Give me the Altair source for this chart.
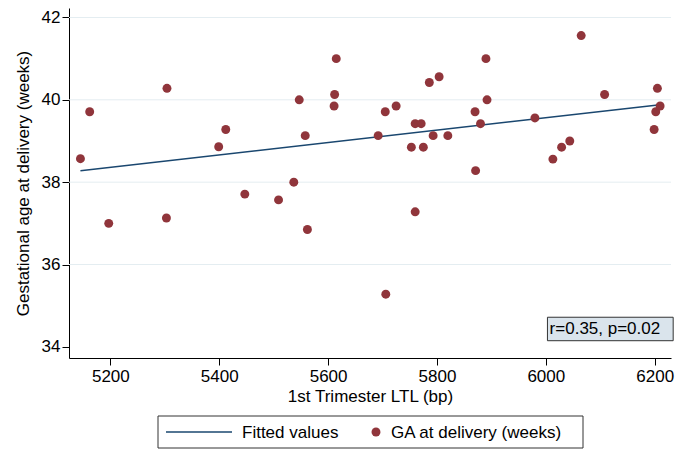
import altair as alt
import pandas as pd

# Data
ltl_bp = [5145, 5162, 5197, 5304, 5303, 5399, 5412, 5447, 5509, 5537,
          5547, 5558, 5562, 5611, 5612, 5615, 5692, 5705, 5706, 5725,
          5753, 5760, 5760, 5771, 5775, 5786, 5793, 5804, 5820, 5870,
          5871, 5880, 5890, 5892, 5980, 6013, 6029, 6044, 6065, 6108,
          6199, 6202, 6205, 6210]
ga_weeks = [38.57, 39.71, 37.00, 40.28, 37.13, 38.86, 39.28, 37.71, 37.57, 38.00,
            40.00, 39.13, 36.85, 39.85, 40.13, 41.00, 39.13, 39.71, 35.28, 39.85,
            38.85, 39.42, 37.28, 39.42, 38.85, 40.42, 39.13, 40.56, 39.13, 39.71,
            38.28, 39.42, 41.00, 40.00, 39.56, 38.56, 38.85, 39.00, 41.56, 40.13,
            39.28, 39.71, 40.28, 39.85]
fit_x = [5145, 6210]
fit_y = [38.28, 39.88]
grid_y = [36, 38, 40, 42]
y_ticks = [34, 36, 38, 40, 42]
x_ticks = [5200, 5400, 5600, 5800, 6000, 6200]
annot_text = "r=0.35, p=0.02"
legend_labels = ["Fitted values", "GA at delivery (weeks)"]

NAVY = "#1a476f"
MAROON = "#90353b"
FONT = "Liberation Sans"
FS = 17

pts = pd.DataFrame({"ltl": ltl_bp, "ga": ga_weeks})
fit = pd.DataFrame({"ltl": fit_x, "ga": fit_y})
grid = pd.DataFrame({"g": grid_y})
annot = pd.DataFrame({"x": [6003], "x2": [6234], "y": [34.72], "y2": [34.15],
                      "tx": [6007], "ty": [34.435], "label": [annot_text]})
one = pd.DataFrame({"a": [0]})

xscale = alt.Scale(domain=[5124, 6230], nice=False, zero=False)
yscale = alt.Scale(domain=[33.73, 42.23], nice=False, zero=False)

xaxis = alt.Axis(values=x_ticks, title="1st Trimester LTL (bp)", grid=False,
                 tickSize=7, tickColor="black", domainColor="black",
                 labelFontSize=FS, titleFontSize=FS, labelFont=FONT, titleFont=FONT,
                 titleFontWeight="normal", labelColor="black", titleColor="black",
                 labelPadding=3, titlePadding=4, format="d", labelFlush=False)
yaxis = alt.Axis(values=y_ticks, title="Gestational age at delivery (weeks)", grid=False,
                 tickSize=7, tickColor="black", domainColor="black",
                 labelFontSize=FS, titleFontSize=FS, labelFont=FONT, titleFont=FONT,
                 titleFontWeight="normal", labelColor="black", titleColor="black",
                 labelPadding=2, titleX=-37, labelFlush=False)

grid_layer = alt.Chart(grid).mark_rule(color="#e4edf1", strokeWidth=1).encode(
    y=alt.Y("g:Q", scale=yscale, axis=yaxis)
)

line_layer = alt.Chart(fit).mark_line(color=NAVY, strokeWidth=1.5).encode(
    x=alt.X("ltl:Q", scale=xscale, axis=xaxis),
    y=alt.Y("ga:Q", scale=yscale, axis=yaxis),
)

point_layer = alt.Chart(pts).mark_circle(color=MAROON, size=80, opacity=1).encode(
    x=alt.X("ltl:Q", scale=xscale, axis=xaxis),
    y=alt.Y("ga:Q", scale=yscale, axis=yaxis),
)

annot_box = alt.Chart(annot).mark_rect(fill="#dae4ec", stroke="#333333", strokeWidth=1).encode(
    x=alt.X("x:Q", scale=xscale), x2="x2:Q",
    y=alt.Y("y:Q", scale=yscale), y2="y2:Q",
)
annot_txt = alt.Chart(annot).mark_text(align="left", baseline="middle", fontSize=FS,
                                       font=FONT, color="black").encode(
    x=alt.X("tx:Q", scale=xscale), y=alt.Y("ty:Q", scale=yscale), text="label:N"
)

# Legend (drawn below the plot, like the original's boxed legend)
leg_box = alt.Chart(one).mark_rect(fill="white", stroke="#333333", strokeWidth=1).encode(
    x=alt.value(89), x2=alt.value(514), y=alt.value(408), y2=alt.value(440)
)
leg_line = alt.Chart(one).mark_rule(color=NAVY, strokeWidth=1.5).encode(
    x=alt.value(97), x2=alt.value(163), y=alt.value(424)
)
leg_txt1 = alt.Chart(one).mark_text(align="left", baseline="middle", fontSize=FS,
                                    font=FONT, color="black",
                                    text=legend_labels[0]).encode(
    x=alt.value(173), y=alt.value(425)
)
leg_dot = alt.Chart(one).mark_circle(color=MAROON, size=80, opacity=1).encode(
    x=alt.value(307), y=alt.value(424)
)
leg_txt2 = alt.Chart(one).mark_text(align="left", baseline="middle", fontSize=FS,
                                    font=FONT, color="black",
                                    text=legend_labels[1]).encode(
    x=alt.value(322), y=alt.value(425)
)

chart = alt.layer(
    grid_layer, line_layer, point_layer, annot_box, annot_txt,
    leg_box, leg_line, leg_txt1, leg_dot, leg_txt2
).properties(
    width=602, height=350,
    autosize=alt.AutoSizeParams(type="none"),
    padding={"left": 61, "top": 0, "right": 9, "bottom": 92},
    background="white",
).configure_view(stroke=None)

chart.save("out.html", embed_options={"renderer": "svg", "actions": False})
